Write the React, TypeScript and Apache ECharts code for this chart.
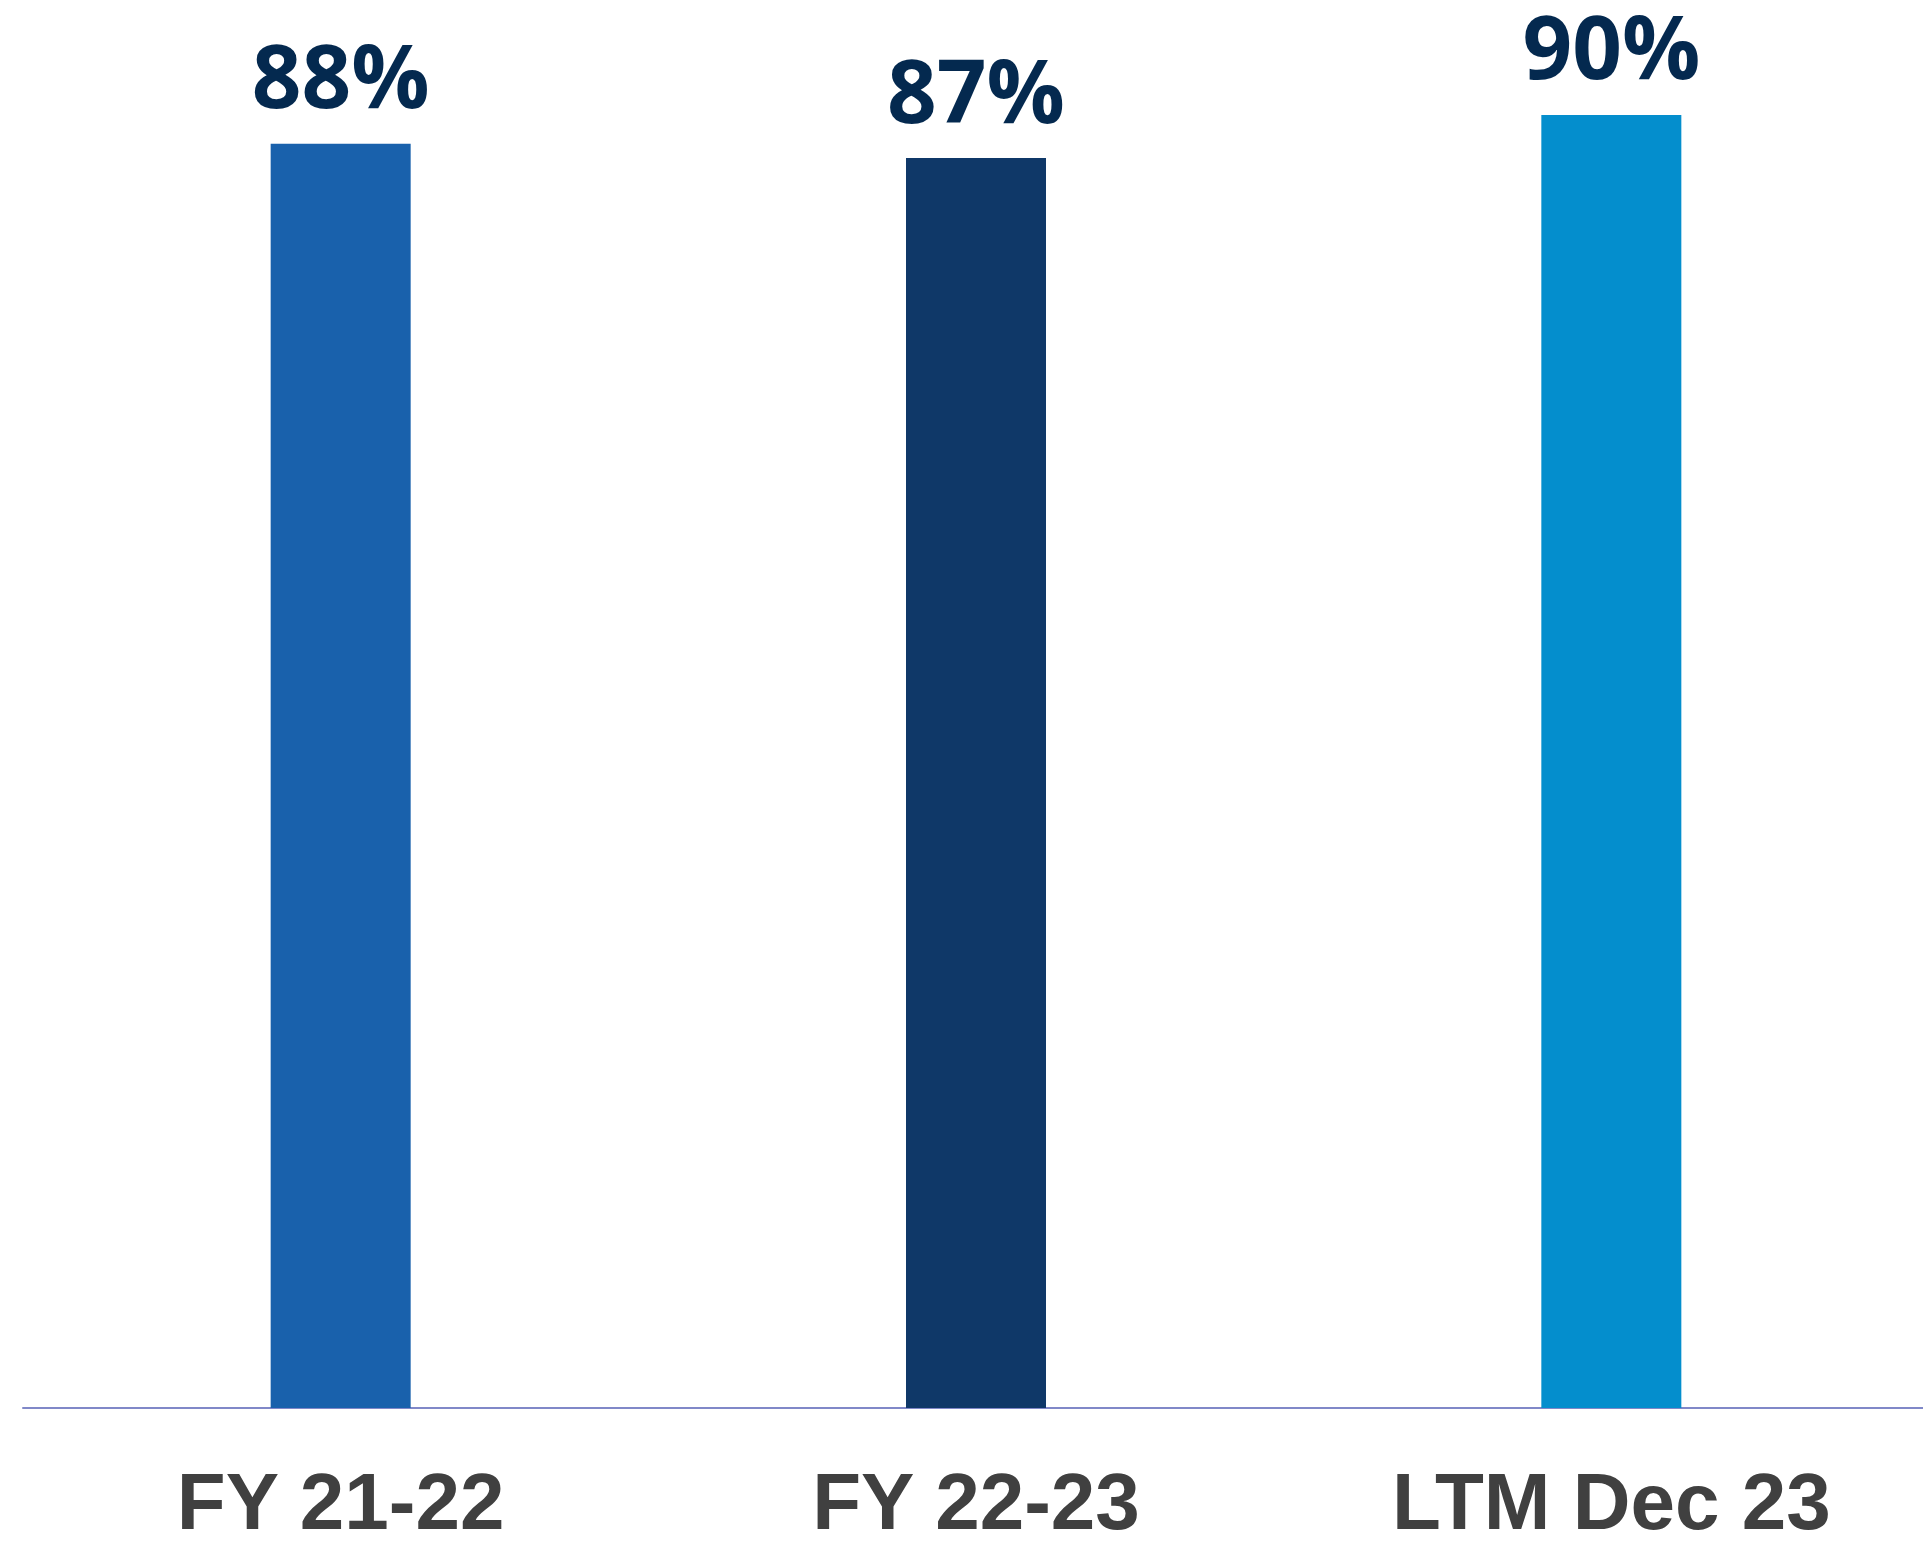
import React, { useEffect, useRef } from "react";
import * as echarts from "echarts";

const categories = ["FY 21-22", "FY 22-23", "LTM Dec 23"];
const values = [88, 87, 90];
const barColors = ["#1961AC", "#0F3868", "#048ECD"];

export default function App() {
  const ref = useRef<HTMLDivElement>(null);
  useEffect(() => {
    if (!ref.current) return;
    const chart = echarts.init(ref.current, null, { renderer: "svg" });
    chart.setOption({
      animation: false,
      backgroundColor: "#ffffff",
      grid: { left: 23, right: 0, top: 0, bottom: 134, containLabel: false },
      xAxis: {
        type: "category",
        data: categories,
        axisLine: { show: true, lineStyle: { color: "#8088C8", width: 2 } },
        axisTick: { show: false },
        axisLabel: {
          margin: 63,
          lineHeight: 60,
          color: "#404040",
          fontFamily: "Liberation Sans, Arial, sans-serif",
          fontWeight: "bold",
          fontSize: 80,
        },
      },
      yAxis: {
        type: "value",
        min: 0,
        max: 98,
        show: false,
        splitLine: { show: false },
      },
      series: [
        {
          type: "bar",
          data: values.map((v, i) => ({ value: v, itemStyle: { color: barColors[i] } })),
          barWidth: 140,
          label: {
            show: true,
            position: "top",
            distance: 26,
            formatter: "{c}%",
            color: "#04294F",
            fontFamily: "Open Sans, sans-serif",
            fontWeight: "bold",
            fontSize: 87,
          },
        },
      ],
    });
    return () => chart.dispose();
  }, []);
  return (
    <div
      ref={ref}
      style={{ position: "fixed", left: 0, top: 0, width: 1929, height: 1542 }}
    />
  );
}
